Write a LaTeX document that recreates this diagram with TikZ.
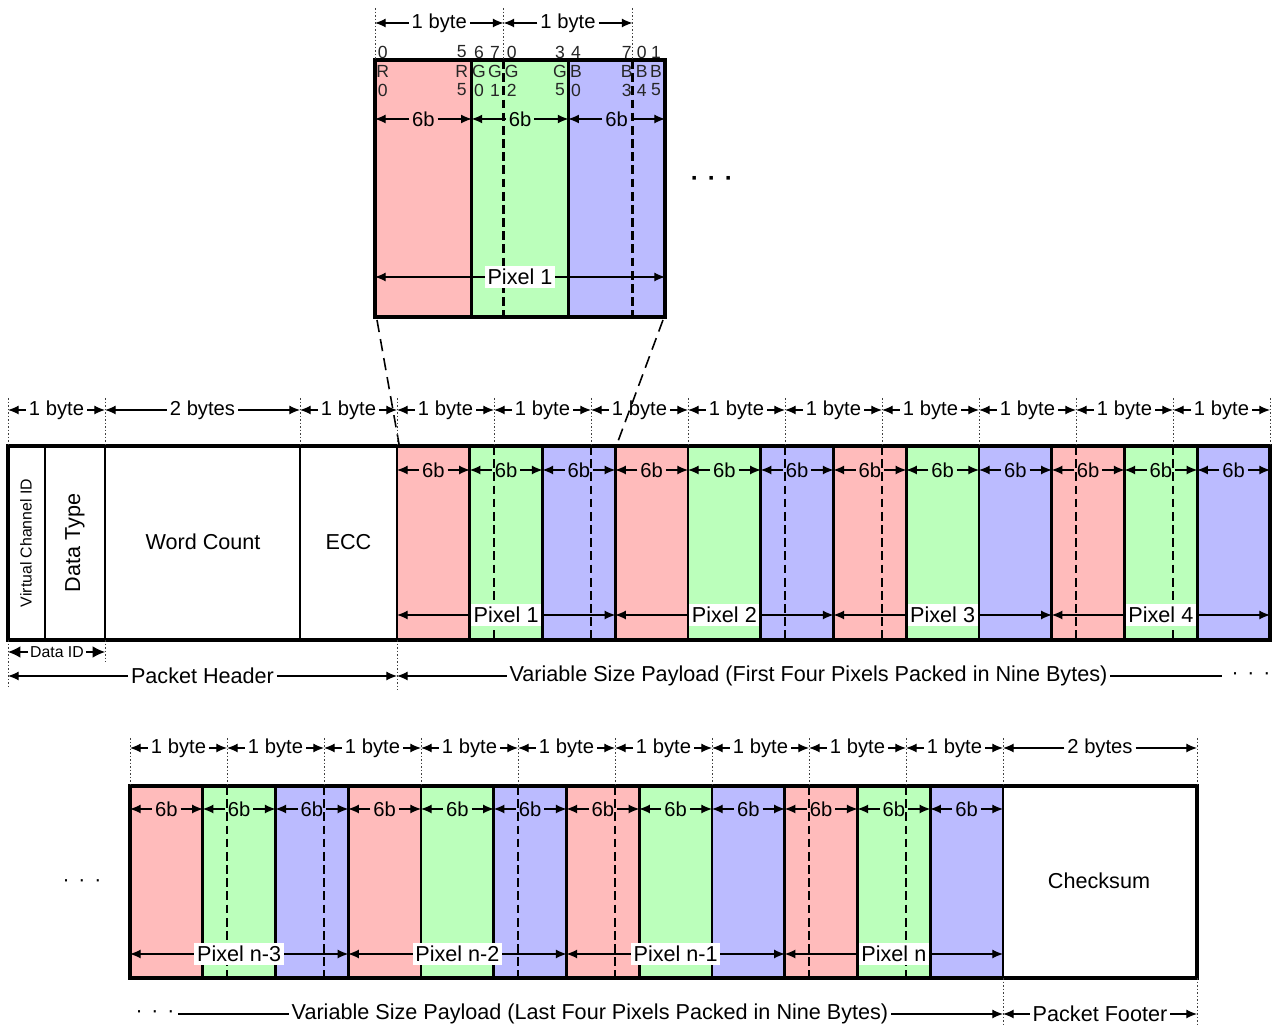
\documentclass[tikz,border=0pt]{standalone}
\usepackage{fontspec}
\setmainfont{Liberation Sans}
\usetikzlibrary{arrows.meta}
\definecolor{cr}{RGB}{255,187,187}
\definecolor{cg}{RGB}{187,255,187}
\definecolor{cb}{RGB}{187,187,255}
\newcommand\dimA[6][lbl]{%
  \coordinate (#2l) at (#3,#5);
  \coordinate (#2r) at (#4,#5);
  \node[#1] (#2) at ({(#3+#4)/2},#5) {#6};
  \draw[dimone] (#2) -- (#2l);
  \draw[dimone] (#2) -- (#2r);}
\newcommand\pixA[5]{%
  \coordinate (#1l) at (#2,#4);
  \coordinate (#1r) at (#3,#4);
  \draw[dimboth] (#1l) -- (#1r);
  \node[pixlbl] (#1) at ({(#2+#3)/2},#4) {#5};}
\begin{document}
\begin{tikzpicture}[x=0.02cm,y=-0.02cm,
  dimone/.style={line width=0.6pt,-{Latex[length=6pt,width=5pt]}},
  dimboth/.style={line width=0.6pt,{Latex[length=6pt,width=5pt]}-{Latex[length=6pt,width=5pt]}},
  bigone/.style={line width=0.6pt,-{Latex[length=7pt,width=6.5pt]}},
  lbl/.style={font=\fontsize{11.5}{13}\selectfont,inner sep=1.5pt},
  big/.style={font=\fontsize{12.3}{14}\selectfont,inner sep=1.5pt},
  small/.style={font=\fontsize{9}{10}\selectfont,inner sep=1pt},
  bit/.style={font=\fontsize{10}{11}\selectfont,inner sep=0pt,text=black!85},
  pixlbl/.style={big,fill=white,inner sep=1.5pt},
  boxline/.style={line width=2.2pt},
  divline/.style={line width=1.7pt},
  dashline/.style={line width=1.3pt,dash pattern=on 5pt off 2.5pt},
  guide/.style={line width=0.4pt,dash pattern=on 1pt off 1pt,black!75},
  zoomline/.style={line width=0.9pt,dash pattern=on 7pt off 4pt},
  dotsl/.style={font=\fontsize{12}{14}\selectfont,inner sep=0pt}
]
\useasboundingbox (0,0) rectangle (1276,1026);

% ---------------- top zoomed pixel ----------------
\fill[cr] (375,60) rectangle (471.67,317);
\fill[cg] (471.67,60) rectangle (568.33,317);
\fill[cb] (568.33,60) rectangle (665,317);
\draw[dashline] (503.5,60) -- (503.5,317);
\draw[dashline] (632.5,60) -- (632.5,317);
\draw[divline] (471.67,60) -- (471.67,317);
\draw[divline] (568.33,60) -- (568.33,317);
\draw[boxline] (375,60) rectangle (665,317);
\foreach \x in {375,503.5,632.5} \draw[guide] (\x,8) -- (\x,60);
\dimA{tba}{375}{503.5}{23}{1 byte}
\dimA{tbb}{503.5}{632.5}{23}{1 byte}
% bit labels
\foreach \x/\a/\b/\c [count=\k] in {382.7/0/R/0,461.7/5/R/5,479/6/G/0,495/7/G/1,511.7/0/G/2,560/3/G/5,576/4/B/0,626.7/7/B/3,641.7/0/B/4,656/1/B/5}{
  \node[bit] (bn\k) at (\x,52) {\a};
  \node[bit] (bc\k) at (\x,71) {\b};
  \node[bit] (bi\k) at (\x,90) {\c};
}
\dimA{tsa}{375}{471.67}{119}{6b}
\dimA{tsb}{471.67}{568.33}{119}{6b}
\dimA{tsc}{568.33}{665}{119}{6b}
\pixA{tpx}{375}{665}{277}{Pixel 1}
\node[font=\bfseries\fontsize{14}{16}\selectfont,inner sep=0pt] (tdots) at (712,181) {·\hspace{5pt}·\hspace{5pt}·};
% zoom lines
\coordinate (zla) at (377,320);
\coordinate (zlb) at (399,444);
\coordinate (zra) at (663,320);
\coordinate (zrb) at (617,444);
\draw[zoomline] (zla) -- (zlb);
\draw[zoomline] (zra) -- (zrb);

% ---------------- middle row ----------------
\foreach \i/\c in {0/cr,1/cg,2/cb,3/cr,4/cg,5/cb,6/cr,7/cg,8/cb,9/cr,10/cg,11/cb}{
  \fill[\c] ({397+72.75*\i},446) rectangle ({397+72.75*(\i+1)},640);
}
\foreach \x in {494,591,785,882,1076,1173} \draw[dashline] (\x,446) -- (\x,640);
\foreach \x in {45,105,300,397} \draw[divline] (\x,446) -- (\x,640);
\foreach \i in {1,...,11} \draw[divline] ({397+72.75*\i},446) -- ({397+72.75*\i},640);
\draw[boxline] (8,446) rectangle (1270,640);
\foreach \x in {8,105,300,397,494,591,688,785,882,979,1076,1173,1270} \draw[guide] (\x,398) -- (\x,446);
\dimA{hba}{8}{105}{410}{1 byte}
\dimA{hbb}{105}{300}{410}{2 bytes}
\dimA{hbc}{300}{397}{410}{1 byte}
\foreach \i in {0,...,8}{
  \pgfmathsetmacro\xa{397+97*\i}
  \pgfmathsetmacro\xb{397+97*(\i+1)}
  \dimA{pb\i}{\xa}{\xb}{410}{1 byte}
}
\foreach \i in {0,...,11}{
  \pgfmathsetmacro\xa{397+72.75*\i}
  \pgfmathsetmacro\xb{397+72.75*(\i+1)}
  \dimA{ms\i}{\xa}{\xb}{470}{6b}
}
\foreach \i in {0,...,3}{
  \pgfmathsetmacro\xa{397+218.25*\i}
  \pgfmathsetmacro\xb{397+218.25*(\i+1)}
  \pgfmathtruncatemacro\n{\i+1}
  \pixA{mp\i}{\xa}{\xb}{615}{Pixel \n}
}
\node[small,rotate=90] (vcid) at (26,543) {Virtual Channel ID};
\node[big,rotate=90] (dtype) at (75,543) {Data Type};
\node[big] (wcount) at (203,542) {Word Count};
\node[big] (ecc) at (348.5,542) {ECC};
% below middle row
\draw[guide] (8,640) -- (8,688);
\draw[guide] (105,640) -- (105,662);
\draw[guide] (397,640) -- (397,690);
\coordinate (dil) at (8,652);
\coordinate (dir) at (105,652);
\node[small] (did) at (57,652) {Data ID};
\draw[bigone] (did) -- (dil);
\draw[bigone] (did) -- (dir);
\dimA[big]{phd}{8}{397}{676}{Packet Header}
\coordinate (pll) at (397,676);
\coordinate (plr) at (1222,676);
\node[big] (plt) at (808.5,676) {Variable Size Payload (First Four Pixels Packed in Nine Bytes)};
\draw[dimone] (plt) -- (pll);
\draw[line width=0.6pt] (plt) -- (plr);
\node[dotsl] (pldots) at (1251,676) {·\hspace{5pt}·\hspace{5pt}·};

% ---------------- bottom row ----------------
\foreach \i/\c in {0/cr,1/cg,2/cb,3/cr,4/cg,5/cb,6/cr,7/cg,8/cb,9/cr,10/cg,11/cb}{
  \fill[\c] ({130+72.75*\i},786) rectangle ({130+72.75*(\i+1)},978);
}
\foreach \x in {227,324,518,615,809,906} \draw[dashline] (\x,786) -- (\x,978);
\foreach \i in {1,...,12} \draw[divline] ({130+72.75*\i},786) -- ({130+72.75*\i},978);
\draw[boxline] (130,786) rectangle (1197,978);
\foreach \x in {130,227,324,421,518,615,712,809,906,1003,1197} \draw[guide] (\x,738) -- (\x,786);
\foreach \i in {0,...,8}{
  \pgfmathsetmacro\xa{130+97*\i}
  \pgfmathsetmacro\xb{130+97*(\i+1)}
  \dimA{bb\i}{\xa}{\xb}{748}{1 byte}
}
\dimA{bbt}{1003}{1197}{748}{2 bytes}
\foreach \i in {0,...,11}{
  \pgfmathsetmacro\xa{130+72.75*\i}
  \pgfmathsetmacro\xb{130+72.75*(\i+1)}
  \dimA{bs\i}{\xa}{\xb}{809}{6b}
}
\pixA{bpa}{130}{348.25}{954}{Pixel n-3}
\pixA{bpb}{348.25}{566.5}{954}{Pixel n-2}
\pixA{bpc}{566.5}{784.75}{954}{Pixel n-1}
\pixA{bpd}{784.75}{1003}{954}{Pixel n}
\node[big] (chk) at (1099,881) {Checksum};
\node[dotsl] (ldots) at (82,883) {·\hspace{5pt}·\hspace{5pt}·};
% below bottom row
\draw[guide] (1003,978) -- (1003,1026);
\draw[guide] (1197,978) -- (1197,1026);
\node[dotsl] (bdots) at (155,1014) {·\hspace{5pt}·\hspace{5pt}·};
\coordinate (bll) at (178,1014);
\coordinate (blr) at (1003,1014);
\node[big] (blt) at (590,1014) {Variable Size Payload (Last Four Pixels Packed in Nine Bytes)};
\draw[line width=0.6pt] (bll) -- (blt);
\draw[dimone] (blt) -- (blr);
\dimA[big]{pft}{1003}{1197}{1014}{Packet Footer}
\end{tikzpicture}
\end{document}
